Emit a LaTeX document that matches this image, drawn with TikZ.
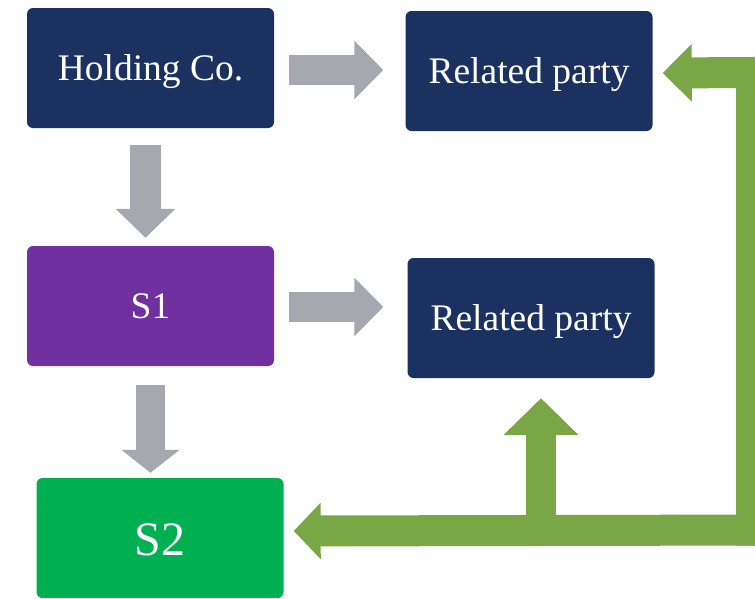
\documentclass[tikz,border=0pt]{standalone}
\usepackage{fontspec}
\setmainfont{Liberation Serif}
\usetikzlibrary{arrows.meta}
\definecolor{navy}{HTML}{1B315F}
\definecolor{violet}{HTML}{7030A0}
\definecolor{leaf}{HTML}{00B050}
\definecolor{steel}{HTML}{A6A8AF}
\definecolor{olive}{HTML}{7AA745}
\tikzset{
  box/.style={rectangle, rounded corners=6pt, minimum width=247pt, minimum height=120pt,
    inner sep=0pt, text=white, font=\fontsize{37.5}{40}\selectfont,
    text height=26pt, text depth=2pt},
  grayarrow/.style={draw=steel, line width=30pt,
    -{Triangle[width=57pt,length=29pt]}},
  greenarrow/.style={draw=olive, line width=31pt, line join=miter},
}
\begin{document}
\begin{tikzpicture}[x=1pt,y=-1pt]
\useasboundingbox (0,0) rectangle (755,598);
\clip (0,0) rectangle (755,598);

% boxes
\node[box, fill=navy]   (hold) at (150.5,68)  {Holding Co.};
\node[box, fill=navy]   (rpa)  at (529,71)    {Related party};
\node[box, fill=violet] (sa)   at (150.5,306) {S1};
\node[box, fill=navy]   (rpb)  at (531,318)   {Related party};
\node[box, fill=leaf, font=\fontsize{48}{50}\selectfont,
      text height=36pt, text depth=2pt] (sb) at (160,538) {S2};

% ownership chain (yshift is in page direction: positive is up)
\draw[grayarrow] ([xshift=15pt,yshift=-2pt]hold.east) -- ([xshift=-22pt,yshift=1pt]rpa.west);
\draw[grayarrow] ([xshift=15pt,yshift=-1pt]sa.east) -- ([xshift=-24pt,yshift=11pt]rpb.west);
\draw[grayarrow, line width=31pt, -{Triangle[width=58pt,length=29pt]}]
  ([xshift=-5pt,yshift=-17pt]hold.south) -- ([xshift=-5pt,yshift=8pt]sa.north);
\draw[grayarrow, line width=29pt, -{Triangle[width=57pt,length=23pt]}]
  ([yshift=-19pt]sa.south) -- ([xshift=-9.5pt,yshift=5pt]sb.north);

% flows back from S2 to the related parties; the return bar runs past the right edge
\coordinate (corner) at (751.5,545.5);
\coordinate (upper)  at (751.5,72.5);
\coordinate (edge)   at (775,530);
\coordinate (fork)   at (541,530);
\draw[greenarrow, -{Triangle[width=56pt,length=29pt]}] (corner) -- (upper) -- ([xshift=10pt,yshift=-2pt]rpa.east);
\draw[greenarrow, -{Triangle[width=55pt,length=27pt]}] (edge) -- ([xshift=10pt,yshift=7pt]sb.east);
\draw[greenarrow, line width=30pt, -{Triangle[width=73pt,length=37pt]}] (fork) -- ([xshift=10pt,yshift=-20pt]rpb.south);
\end{tikzpicture}
\end{document}
